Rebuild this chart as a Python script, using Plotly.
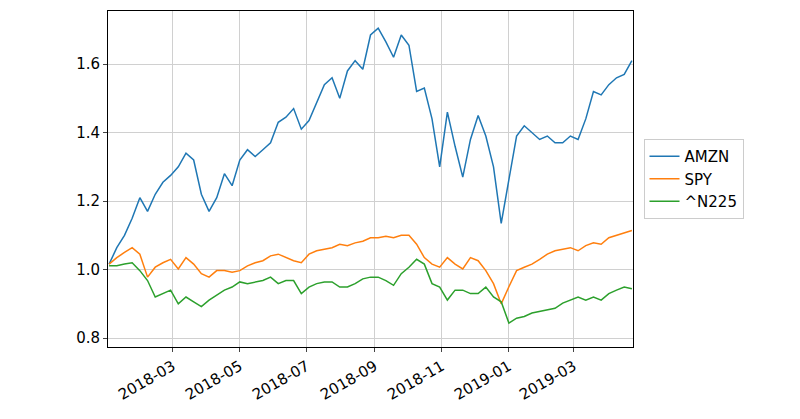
import pandas as pd
import plotly.graph_objects as go

dates = pd.date_range("2018-01-02", periods=69, freq="7D")
tick_dates = ["2018-03-01", "2018-05-01", "2018-07-01", "2018-09-01", "2018-11-01", "2019-01-01", "2019-03-01"]

amzn = [1.016, 1.064, 1.10, 1.15, 1.21, 1.17, 1.22, 1.255, 1.275, 1.30, 1.34, 1.32, 1.22, 1.17,
        1.21, 1.28, 1.245, 1.32, 1.35, 1.33, 1.35, 1.37, 1.43, 1.445, 1.47, 1.41, 1.435, 1.485,
        1.54, 1.56, 1.50, 1.58, 1.61, 1.585, 1.685, 1.705, 1.665, 1.62, 1.685, 1.655, 1.52,
        1.53, 1.44, 1.30, 1.46, 1.36, 1.27, 1.38, 1.45, 1.39, 1.30, 1.135, 1.265, 1.39, 1.42,
        1.40, 1.38, 1.39, 1.37, 1.37, 1.39, 1.38, 1.44, 1.52, 1.51, 1.54, 1.56, 1.57, 1.61]
spy = [1.016, 1.035, 1.05, 1.064, 1.045, 0.978, 1.007, 1.02, 1.03, 1.002, 1.035, 1.016, 0.988,
       0.978, 0.997, 0.997, 0.992, 0.997, 1.011, 1.02, 1.026, 1.04, 1.045, 1.035, 1.026, 1.02,
       1.045, 1.055, 1.06, 1.064, 1.074, 1.07, 1.078, 1.083, 1.093, 1.093, 1.097, 1.093, 1.10,
       1.10, 1.074, 1.035, 1.016, 1.007, 1.035, 1.016, 1.002, 1.035, 1.026, 0.997, 0.959, 0.90,
       0.95, 0.997, 1.007, 1.016, 1.03, 1.045, 1.055, 1.06, 1.064, 1.055, 1.07, 1.078, 1.074,
       1.093, 1.10, 1.107, 1.114]
n225 = [1.011, 1.011, 1.016, 1.02, 0.997, 0.968, 0.92, 0.93, 0.94, 0.90, 0.92, 0.906, 0.892,
        0.911, 0.925, 0.94, 0.949, 0.964, 0.959, 0.964, 0.968, 0.978, 0.959, 0.968, 0.968, 0.93,
        0.949, 0.959, 0.964, 0.964, 0.949, 0.949, 0.959, 0.973, 0.978, 0.978, 0.968, 0.954,
        0.988, 1.007, 1.03, 1.016, 0.959, 0.949, 0.911, 0.94, 0.94, 0.93, 0.93, 0.949, 0.92,
        0.906, 0.844, 0.858, 0.863, 0.873, 0.878, 0.882, 0.887, 0.902, 0.911, 0.92, 0.911, 0.92,
        0.911, 0.93, 0.94, 0.949, 0.944]

fig = go.Figure()
for name, vals, color in [("AMZN", amzn, "#1f77b4"), ("SPY", spy, "#ff7f0e"), ("^N225", n225, "#2ca02c")]:
    fig.add_trace(go.Scatter(x=dates, y=vals, mode="lines", name=name, line=dict(color=color, width=1.5)))

axis_style = dict(showline=True, linecolor="black", linewidth=1, mirror=True, showgrid=True,
                  gridcolor="#d0d0d0", ticks="outside", ticklen=4, zeroline=False)
fig.update_xaxes(range=["2018-01-01", "2019-04-24"], tickvals=tick_dates,
                 ticktext=[d[:7] for d in tick_dates], tickangle=-30, **axis_style)
fig.update_yaxes(range=[0.774, 1.755], tickvals=[0.8, 1.0, 1.2, 1.4, 1.6],
                 ticktext=["0.8", "1.0", "1.2", "1.4", "1.6"], **axis_style)
fig.update_layout(
    width=800, height=419,
    margin=dict(l=100, r=175, t=3, b=80),
    plot_bgcolor="white", paper_bgcolor="white",
    font=dict(family="DejaVu Sans", size=15, color="black"),
    legend=dict(x=1.02, y=0.5, yanchor="middle", bordercolor="#cccccc", borderwidth=1,
                font=dict(size=15)),
)
fig.write_html("out.html")
